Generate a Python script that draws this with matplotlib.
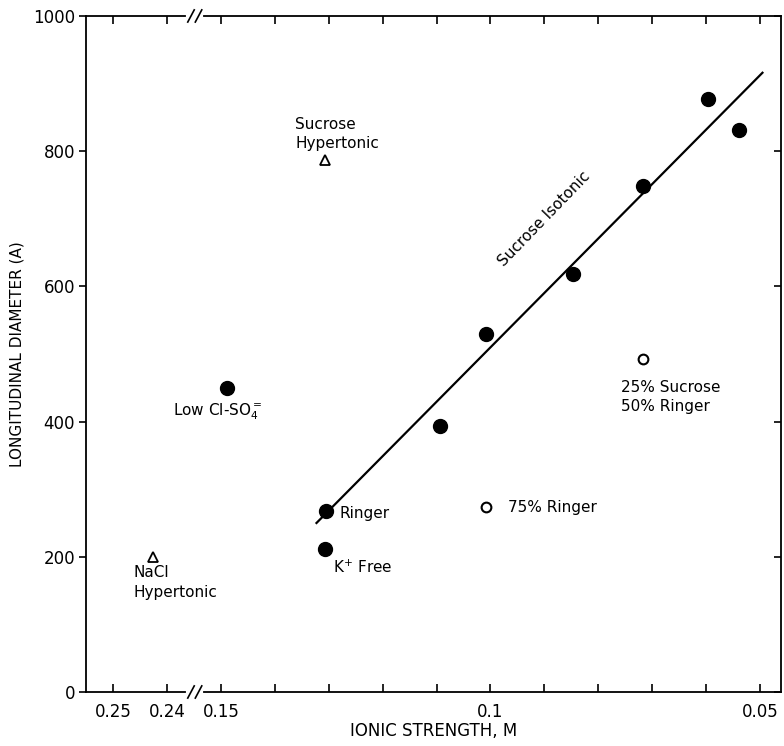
import matplotlib
matplotlib.use("Agg")
import matplotlib.pyplot as plt
import numpy as np

plt.rcParams['font.family'] = ['DejaVu Sans']

# filled circles: ionic strength (M) and longitudinal diameter (A)
filled_I = [0.149, 0.1306, 0.1308, 0.1093, 0.1009, 0.0846, 0.0716, 0.0597, 0.0538]
filled_D = [450, 267, 212, 393, 529, 619, 748, 877, 831]

# open circles
open_I = [0.1009, 0.0716]
open_D = [273, 493]

# open triangles (hypertonic)
tri_I = [0.1308, 0.2427]
tri_D = [787, 200]

# sucrose isotonic line
line_I = [0.1323, 0.0495]
line_D = [250, 916]

tick_I = [0.25, 0.24, 0.15, 0.14, 0.13, 0.12, 0.11, 0.10, 0.09, 0.08, 0.07, 0.06, 0.05]
tick_labels = ['0.25', '0.24', '0.15', '', '', '', '', '0.1', '', '', '', '', '0.05']


def to_axis(I):
    # broken axis: 0.25-0.24 piece sits left of the 0.15-0.05 piece
    I = np.asarray(I, dtype=float)
    return np.where(I > 0.2, 0.23 - I, 0.15 - I)


fig = plt.figure(figsize=(7.84, 7.46), dpi=100)
ax = fig.add_axes([0.110, 0.0724, 0.8865, 0.9062])

ax.plot(to_axis(line_I), line_D, color='black', lw=1.6)
ax.plot(to_axis(filled_I), filled_D, 'o', color='black', ms=10, ls='none')
ax.plot(to_axis(open_I), open_D, 'o', mfc='white', mec='black', mew=1.5, ms=7, ls='none')
ax.plot(to_axis(tri_I), tri_D, '^', mfc='white', mec='black', mew=1.3, ms=7, ls='none')

ax.set_xlim(-0.02505, 0.10399)
ax.set_ylim(0, 1000)

ax.set_xticks(to_axis(tick_I))
ax.set_xticklabels(tick_labels, fontsize=12)
ax.set_yticks([0, 200, 400, 600, 800, 1000])
ax.set_yticklabels(['0', '200', '400', '600', '800', '1000'], fontsize=12)
ax.tick_params(axis='x', direction='in', length=6, width=1.2, top=True, pad=8)
ax.tick_params(axis='y', direction='out', length=5, width=1.2, pad=3, right=True)
# right-hand ticks point inward
for t in ax.yaxis.get_major_ticks():
    t.tick2line.set_marker(matplotlib.lines.TICKLEFT)
for s in ax.spines.values():
    s.set_linewidth(1.3)

ax.set_xlabel('IONIC STRENGTH, M', fontsize=12, labelpad=1)
ax.set_ylabel('LONGITUDINAL DIAMETER (A)', fontsize=11, labelpad=6)

# axis break marks on bottom and top
bx = -0.0049
for yy in (0, 1000):
    ax.plot([bx - 0.0012, bx + 0.0012], [yy, yy], color='white', lw=3,
            clip_on=False, zorder=5)
    for dx in (-0.0007, 0.0007):
        ax.plot([bx + dx - 0.0006, bx + dx + 0.0006], [yy - 9, yy + 9],
                color='black', lw=1.2, clip_on=False, zorder=6)

# annotations
ax.text(to_axis(0.1362), 800, 'Sucrose\nHypertonic', fontsize=11, ha='left',
        va='bottom', linespacing=1.35)
ax.text(to_axis(0.1590), 415, 'Low Cl-SO$_4^{=}$', fontsize=11, ha='left', va='center')
ax.text(to_axis(0.1280), 264, 'Ringer', fontsize=11, ha='left', va='center')
ax.text(to_axis(0.1292), 185, 'K$^{+}$ Free', fontsize=11, ha='left', va='center')
ax.text(to_axis(0.2462), 188, 'NaCl\nHypertonic', fontsize=11, ha='left', va='top',
        linespacing=1.4)
ax.text(to_axis(0.0968), 273, '75% Ringer', fontsize=11, ha='left', va='center')
ax.text(to_axis(0.0757), 462, '25% Sucrose\n50% Ringer', fontsize=11, ha='left',
        va='top', linespacing=1.4)
ax.text(to_axis(0.0900), 700, 'Sucrose Isotonic', fontsize=11, ha='center',
        va='center', rotation=46)

fig.savefig('out.png', dpi=100)
